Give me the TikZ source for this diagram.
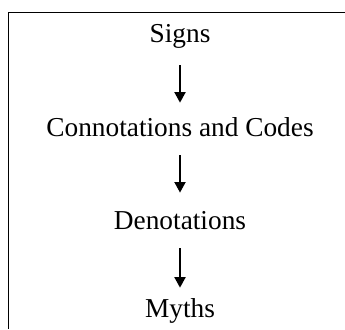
\documentclass[tikz,border=0pt]{standalone}
\usepackage{fontspec}
\setmainfont{Liberation Serif}
\usetikzlibrary{arrows.meta,positioning}
\tikzset{
  stagenode/.style={inner sep=0pt, font=\fontsize{20.5}{24}\selectfont,
                    text height=14pt, text depth=4pt, anchor=base},
  stageedge/.style={-{Triangle[length=8pt,width=8pt]}, line width=2.2pt},
  frameline/.style={line width=1.3pt},
}
\begin{document}
\begin{tikzpicture}[x=0.75pt,y=0.75pt]
  \useasboundingbox (0,0) rectangle (345,329);
  % frame: top and left edges only
  \draw[frameline] (345,316.5) -- (8.5,316.5) -- (8.5,0);

  \node[stagenode] (signs)  at (180,286) {Signs};
  \node[stagenode] (codes)  at (180,193) {Connotations and Codes};
  \node[stagenode] (denot)  at (180,100) {Denotations};
  \node[stagenode] (myths)  at (180,12)  {Myths};

  \draw[stageedge,shorten <=12.5pt,shorten >=10.7pt] (signs) -- (codes);
  \draw[stageedge,shorten <=10.3pt,shorten >=13pt]   (codes) -- (denot);
  \draw[stageedge,shorten <=10.3pt,shorten >=7.7pt]  (denot) -- (myths);
\end{tikzpicture}
\end{document}
